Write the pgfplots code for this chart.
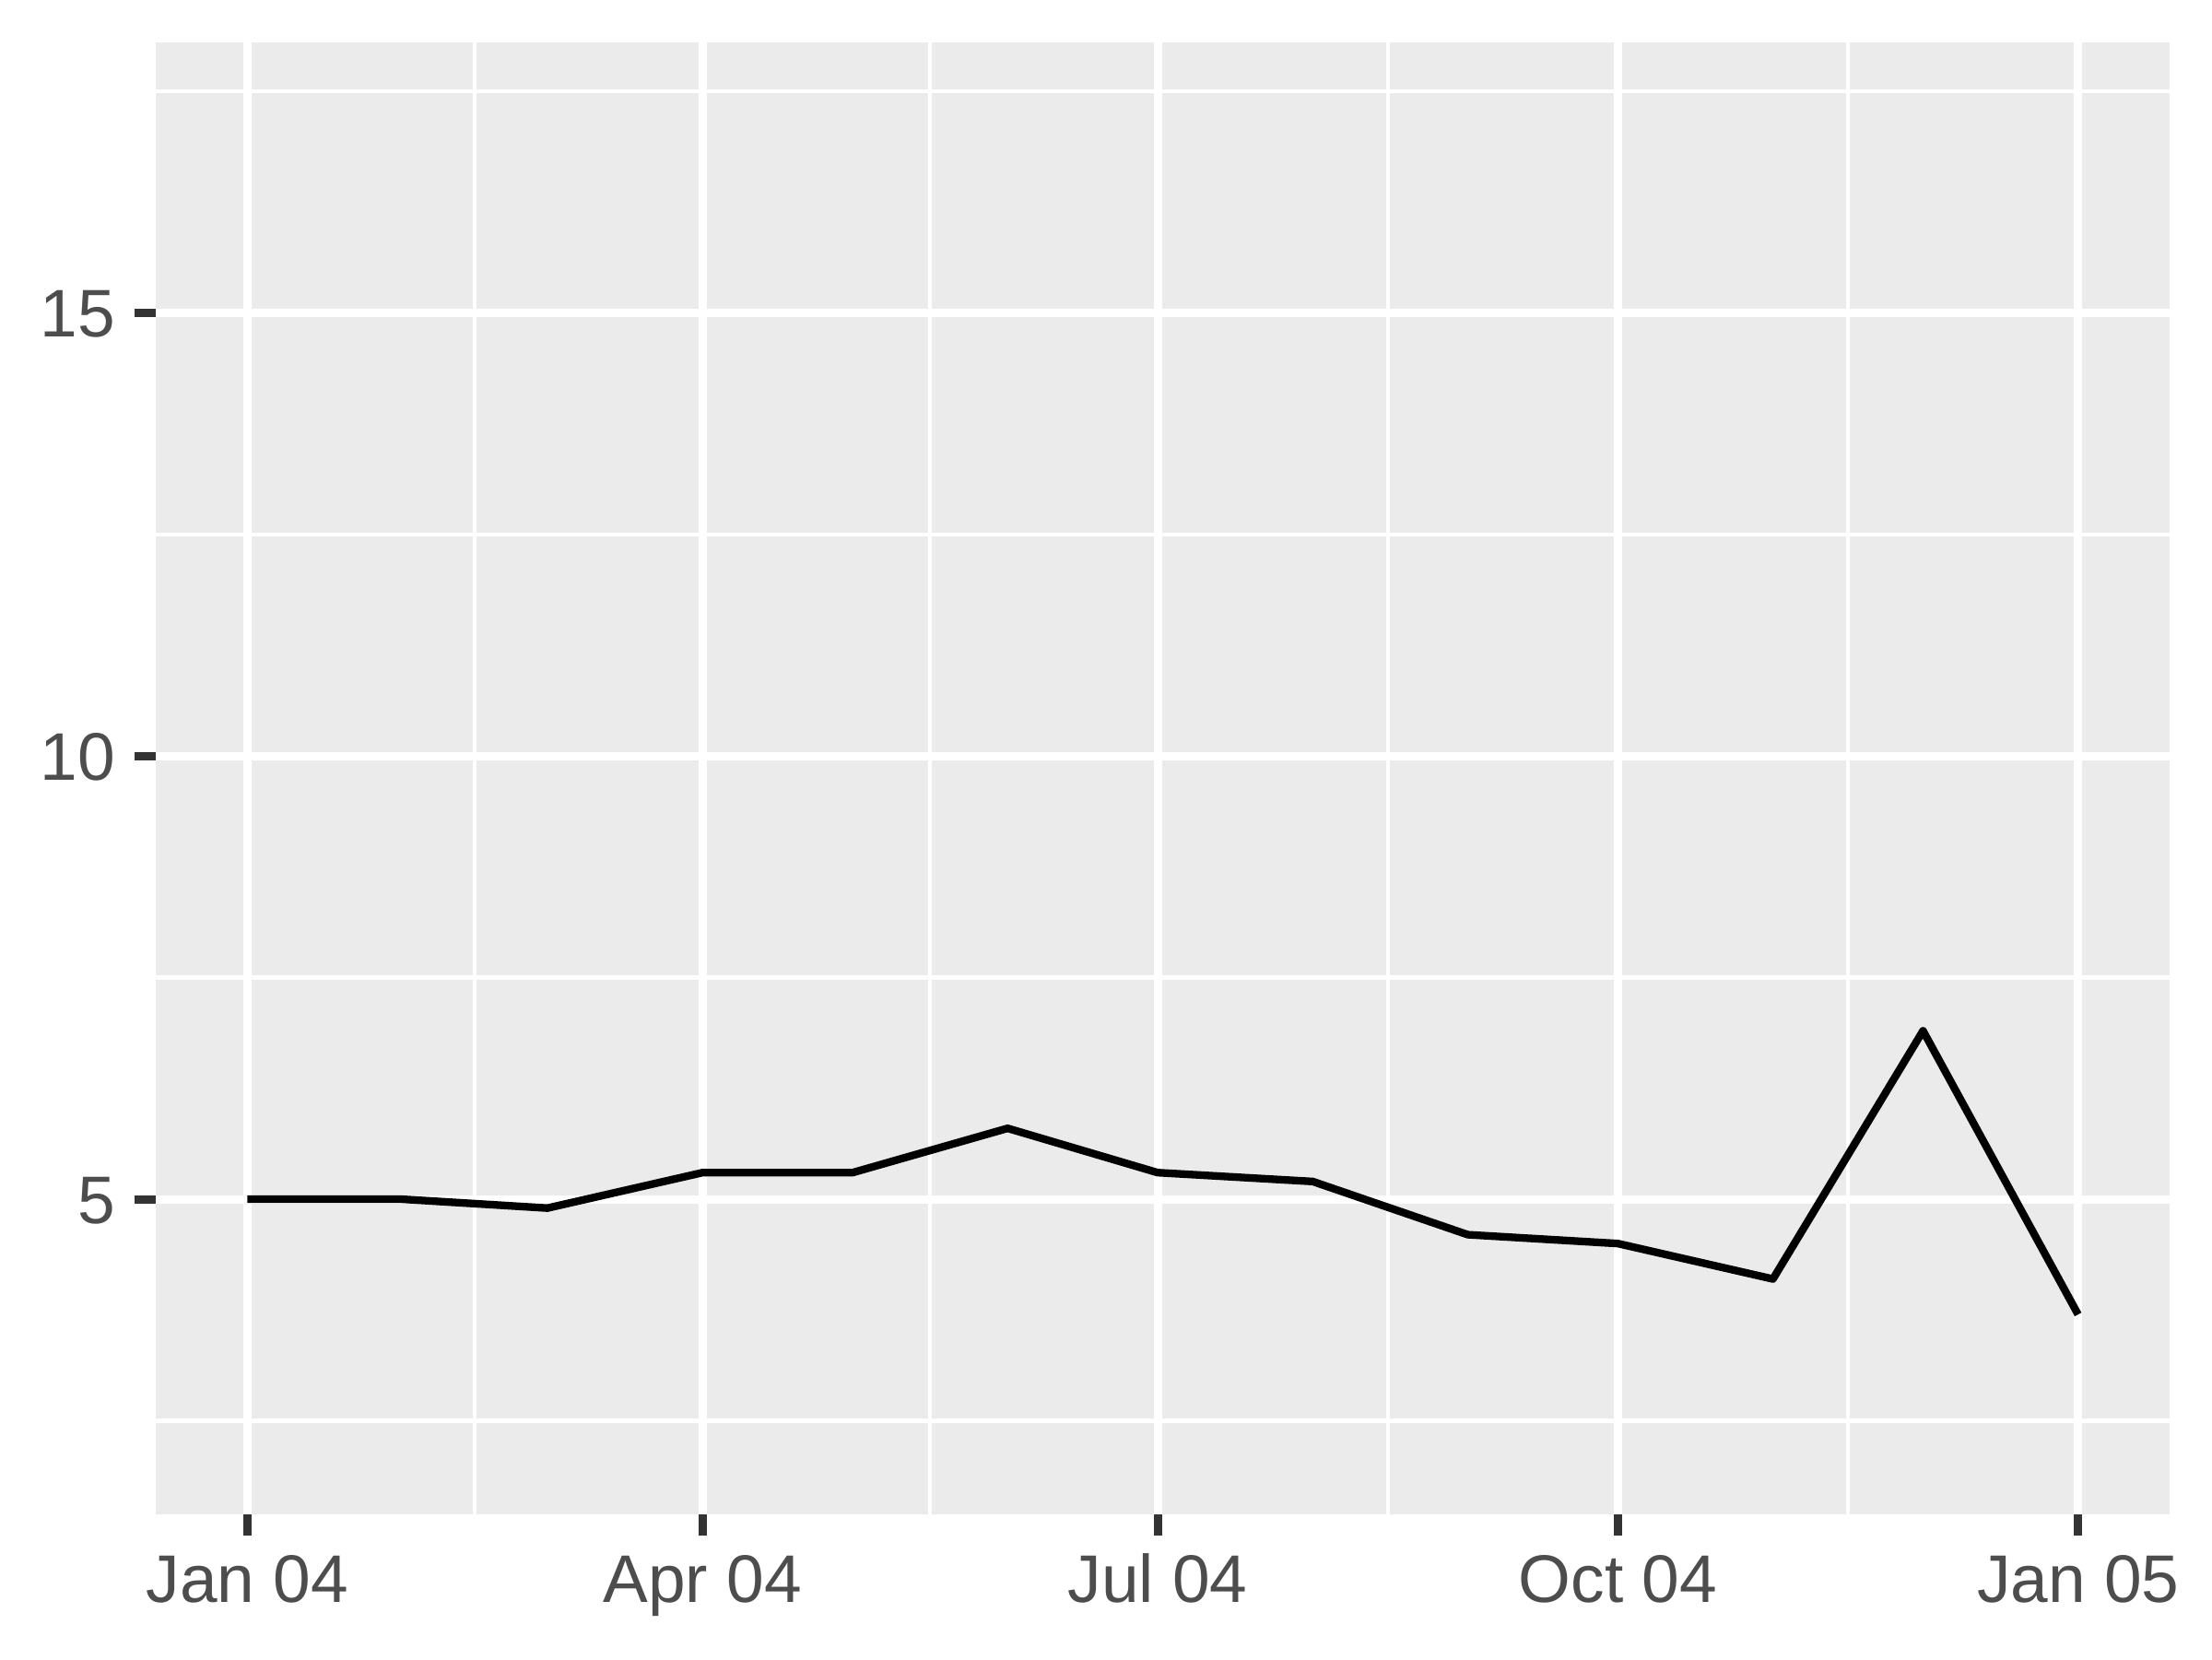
\documentclass[border=0pt]{standalone}
\usepackage{fontspec}
\setmainfont{Liberation Sans}
\usepackage{pgfplots}
\pgfplotsset{compat=1.18}
\definecolor{panelgrey}{HTML}{EBEBEB}
\definecolor{tickgrey}{HTML}{333333}
\definecolor{textgrey}{HTML}{4D4D4D}
\begin{document}
\begin{tikzpicture}
\path[use as bounding box] (0,0) rectangle (578.16pt,433.62pt);
\begin{axis}[
  at={(40.71pt,37.89pt)}, anchor=south west,
  scale only axis, width=526.37pt, height=384.65pt,
  xmin=-18.3, xmax=384.3, ymin=1.448, ymax=18.05,
  axis background/.style={fill=panelgrey},
  axis line style={draw=none},
  xtick={0,91,182,274,366},
  xticklabels={Jan 04,Apr 04,Jul 04,Oct 04,Jan 05},
  minor xtick={45.5,136.5,228,320},
  ytick={5,10,15},
  yticklabels={5,10,15},
  minor ytick={2.5,7.5,12.5,17.5},
  grid=both,
  major grid style={white, line width=2.13pt},
  minor grid style={white, line width=1.07pt},
  tick align=outside, tick pos=left,
  major tick length=5.5pt, minor tick length=0pt,
  major tick style={color=tickgrey, line width=2.13pt},
  minor tick style={draw=none},
  ticklabel style={font=\fontsize{17.6}{21}\selectfont, text=textgrey, inner sep=0pt},
  xticklabel style={anchor=base, yshift=-17.46pt},
  yticklabel style={anchor=base east, yshift=-6.3pt, xshift=-4.86pt},
  clip=false,
]
\addplot[black, line width=2.0pt, line join=round, no markers] coordinates {
(0,5.0) (31,5.0) (60,4.9) (91,5.3) (121,5.3) (152,5.8) (182,5.3)
(213,5.2) (244,4.6) (274,4.5) (305,4.1) (335,6.9) (366,3.7)
};
\end{axis}
\end{tikzpicture}
\end{document}
